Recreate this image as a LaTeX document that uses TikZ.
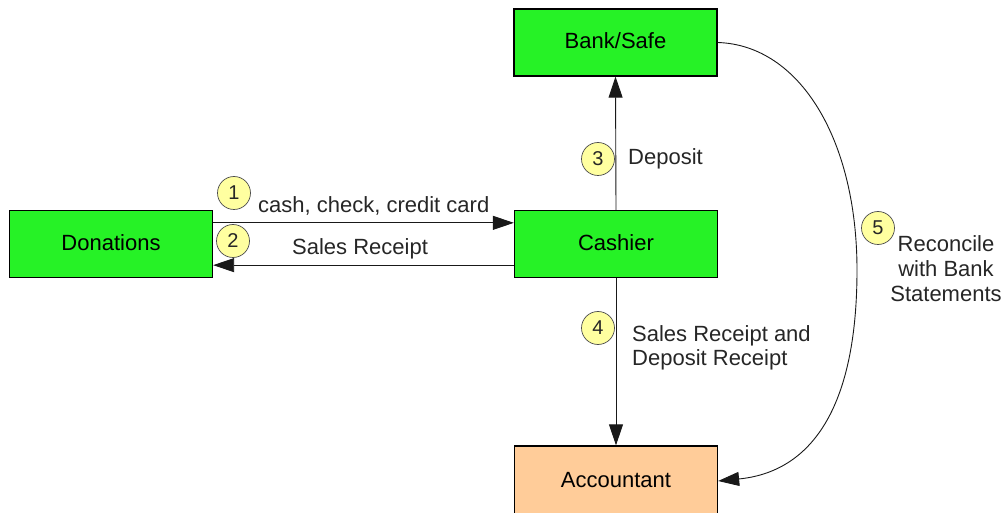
\documentclass[tikz,border=0pt]{standalone}
\usepackage{fontspec}
\setmainfont{Liberation Sans}
\usetikzlibrary{arrows.meta}
\definecolor{boxgreen}{RGB}{38,242,38}
\definecolor{boxorange}{RGB}{255,204,153}
\definecolor{stepyellow}{RGB}{255,255,160}
\begin{document}
\begin{tikzpicture}[x=1pt,y=-1pt,
  box/.style={draw=black, line width=1.3pt, minimum width=203pt, minimum height=67pt,
    inner sep=0pt, font=\fontsize{22}{26}\selectfont, text height=16pt, text depth=3pt},
  greenbox/.style={box, fill=boxgreen},
  flow/.style={draw=black!90, line width=0.9pt, -{Triangle[length=21pt,width=14pt]}},
  stepnum/.style={circle, draw=black!70, line width=0.7pt, fill=stepyellow,
    minimum size=33pt, inner sep=0pt, font=\fontsize{20}{20}\selectfont, text=black!85},
  lbl/.style={inner sep=0pt, font=\fontsize{22}{25}\selectfont, text=black!85}
]
\useasboundingbox (0,0) rectangle (1005,513);
\clip (0,0) rectangle (1005,513);

% process boxes
\node[greenbox] (bank) at (615.5,42.5) {Bank/Safe};
\node[greenbox] (don)  at (111,244) {Donations};
\node[greenbox] (cash) at (616,244) {Cashier};
\node[box, fill=boxorange, minimum height=70pt] (acct) at (616,481) {Accountant};

% flows between boxes
\draw[flow] ([yshift=-13pt]don.north east) -- ([yshift=-13pt]cash.north west);
\draw[flow] ([yshift=13pt]cash.south west) -- ([yshift=13pt]don.south east);
\draw[flow] (cash.north) -- (bank.south);
\draw[flow] (cash.south) -- (acct.north);
\draw[flow] (bank.east) .. controls (800,45) and (857,140) .. (857,270)
                        .. controls (857,410) and (810,472) .. (acct.east);

% step markers
\node[stepnum] (s1) at (234,193) {1};
\node[stepnum] (s2) at (233,241) {2};
\node[stepnum] (s3) at (598,159) {3};
\node[stepnum] (s4) at (598,328) {4};
\node[stepnum] (s5) at (878,228) {5};

% flow labels (multi-line labels are placed by the baseline of their last line)
\node[lbl, anchor=base west] (l1) at (258,213) {cash, check, credit card};
\node[lbl, anchor=base west] (l2) at (292,255) {Sales Receipt};
\node[lbl, anchor=base west] (l3) at (628,165) {Deposit};
\node[lbl, anchor=base west, align=left] (l4) at (632,365.5) {Sales Receipt and\\[-1pt]Deposit Receipt};
\node[lbl, anchor=base, align=center] (l5) at (946,301.5) {Reconcile\\with Bank\\Statements};
\end{tikzpicture}
\end{document}
